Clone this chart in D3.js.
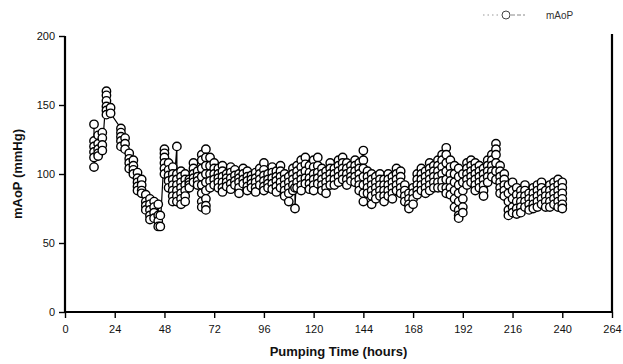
<!DOCTYPE html>
<html>
<head>
<meta charset="utf-8">
<script src="https://cdn.jsdelivr.net/npm/d3@7"></script>
<style>
  body { margin: 0; background: #fff; }
  svg { display: block; }
</style>
</head>
<body>
<div id="chart"></div>
<script>
// x ticks and y ticks as printed on the axes
const xTicks = [0, 24, 48, 72, 96, 120, 144, 168, 192, 216, 240, 264];
const yTicks = [0, 50, 100, 150, 200];

// sampling times (hours) and the burst of readings taken at each one (mmHg)
const hours = [14, 16, 18, 20, 22, 27, 29, 31, 33, 35, 37, 39, 41, 43, 45, 46,
  48, 50, 52, 54, 56, 58, 60, 62, 64, 66, 68, 70,
  72, 74, 76, 78, 80, 82, 84, 86, 88, 90, 92, 94, 96, 98, 100, 102, 104, 106, 108, 110, 111,
  112, 114, 116, 118, 120, 122, 124, 126, 128, 130, 132, 134, 136, 138, 140, 142, 144,
  146, 148, 150, 152, 154, 156, 158, 160, 162, 164, 166, 168, 170, 172, 174, 176, 178,
  180, 182, 184, 186, 188, 190, 192, 194, 196, 198, 200, 202, 204, 206, 208, 210,
  212, 214, 216, 218, 220, 222, 224, 226, 228, 230, 232, 234, 236, 238, 240];

const readings = [
  [136, 124, 120, 116, 112, 105], [128, 122, 118, 115, 113], [130, 126, 121, 117],
  [160, 157, 153, 149, 146, 143], [148, 144],
  [133, 130, 127, 124, 120], [126, 122, 118], [115, 111, 108, 104], [110, 106, 103, 100],
  [101, 97, 94, 91, 88], [96, 92, 88, 86], [85, 80, 77, 74], [82, 78, 74, 70, 67],
  [80, 76, 72, 68], [78, 70, 66, 62], [70, 62],
  [118, 115, 112, 108, 104, 100], [108, 103, 99, 95, 90], [105, 100, 96, 92, 88, 84, 80],
  [120, 100, 96, 92, 88, 84, 80], [102, 98, 94, 90, 86, 82, 78], [100, 96, 92, 88, 84, 80],
  [96, 94, 92, 90], [108, 104, 100, 97, 94], [102, 98, 95, 92],
  [114, 110, 104, 98, 92, 86, 80, 76], [118, 112, 106, 100, 94, 88, 82, 77, 74], [112, 106, 100, 95, 90],
  [108, 104, 100, 96, 92], [104, 100, 97, 94, 90], [106, 102, 98, 94, 90, 87], [100, 97, 94, 91],
  [105, 101, 97, 93, 89], [103, 99, 95, 92], [100, 97, 94, 90, 86], [104, 100, 96, 93],
  [102, 98, 95, 91, 88], [99, 96, 93, 90], [101, 97, 94, 90, 87], [104, 100, 96, 92],
  [108, 103, 99, 95, 91, 88], [100, 96, 93, 90], [105, 101, 97, 93, 89], [102, 98, 95, 91, 87],
  [106, 102, 98, 94, 90], [100, 96, 92, 88, 84], [98, 94, 90, 86, 80], [104, 100, 96, 92, 88],
  [90, 75],
  [106, 102, 98, 94, 90], [110, 105, 100, 96, 92, 88], [112, 107, 102, 97, 93], [106, 101, 97, 93, 89],
  [110, 105, 100, 96, 92, 88], [112, 106, 101, 97, 93], [104, 100, 96, 92, 88], [102, 98, 94, 90, 86],
  [108, 104, 100, 96, 92], [104, 100, 96, 92], [110, 106, 102, 98, 94], [112, 108, 104, 100, 96],
  [108, 104, 100, 96, 92], [106, 102, 98, 95], [110, 106, 102, 98, 94], [108, 104, 100, 96, 92, 88],
  [117, 110, 104, 98, 92, 86, 80],
  [102, 98, 94, 90, 86], [100, 96, 92, 88, 84, 78], [98, 94, 90, 86, 82], [100, 96, 92, 88, 84],
  [96, 92, 88, 84, 80], [100, 96, 92, 88, 84], [98, 94, 90, 86, 82], [104, 100, 96, 92, 88],
  [102, 98, 94, 90, 86], [92, 88, 84, 80], [86, 82, 78, 75], [90, 86, 82, 78],
  [100, 96, 92, 88, 85], [104, 100, 96, 92, 88], [102, 98, 94, 90, 86], [108, 104, 100, 96, 92, 88],
  [106, 102, 98, 94, 90],
  [110, 106, 102, 98, 94, 90], [114, 110, 105, 100, 95, 90], [119, 114, 108, 102, 96, 90, 86],
  [110, 105, 100, 95, 90, 85], [106, 100, 94, 88, 82, 76], [104, 98, 92, 86, 80, 74, 70, 68],
  [100, 94, 88, 82, 76, 72], [108, 104, 100, 96, 92], [110, 106, 102, 98, 94],
  [108, 104, 100, 96, 92, 88], [106, 102, 98, 94, 90], [104, 100, 96, 92, 88, 84],
  [110, 106, 102, 98, 94], [114, 110, 106, 102, 98], [122, 118, 114, 108, 102, 96],
  [106, 102, 98, 94, 90, 86],
  [100, 96, 92, 88, 84], [92, 86, 80, 74, 70], [94, 88, 82, 76, 72], [90, 85, 80, 75, 71],
  [88, 84, 80, 76, 72], [92, 88, 84, 80, 76], [86, 82, 78, 74], [90, 86, 82, 78, 75],
  [92, 88, 84, 80, 76], [94, 90, 86, 82, 78], [88, 84, 80, 76], [92, 88, 84, 80, 76],
  [94, 90, 86, 82, 78], [96, 92, 88, 84, 80, 76], [94, 90, 86, 82, 78, 75]
];

const width = 623, height = 364;
const margin = {top: 36, right: 11, bottom: 52, left: 65};
const font = "'Liberation Sans', Arial, sans-serif";

const svg = d3.select("#chart").append("svg")
  .attr("width", width)
  .attr("height", height);

const x = d3.scaleLinear().domain([0, 264]).range([margin.left, width - margin.right]);
const y = d3.scaleLinear().domain([0, 200]).range([height - margin.bottom, margin.top]);

// flatten the bursts into one ordered sequence of points
const points = [];
hours.forEach((h, i) => {
  readings[i].forEach(v => points.push({h: h, v: v}));
});

// connecting line
svg.append("path")
  .datum(points)
  .attr("fill", "none")
  .attr("stroke", "#000")
  .attr("stroke-width", 1.2)
  .attr("d", d3.line().x(d => x(d.h)).y(d => y(d.v)));

// open circle markers
svg.append("g")
  .selectAll("circle")
  .data(points)
  .enter()
  .append("circle")
  .attr("cx", d => x(d.h))
  .attr("cy", d => y(d.v))
  .attr("r", 4.2)
  .attr("fill", "#fff")
  .attr("stroke", "#000")
  .attr("stroke-width", 1.4);

// axes
const xAxis = svg.append("g")
  .attr("transform", `translate(0,${y(0)})`)
  .call(d3.axisBottom(x).tickValues(xTicks).tickSize(6).tickPadding(7));
const yAxis = svg.append("g")
  .attr("transform", `translate(${margin.left},0)`)
  .call(d3.axisLeft(y).tickValues(yTicks).tickSize(6).tickPadding(4));

[xAxis, yAxis].forEach(a => {
  a.select(".domain").attr("stroke", "#000").attr("stroke-width", 2.2);
  a.selectAll(".tick line").attr("stroke", "#000").attr("stroke-width", 1.4);
  a.selectAll(".tick text")
    .attr("fill", "#111")
    .style("font-family", font)
    .style("font-size", "11px");
});
xAxis.select(".domain").attr("d", `M${x(0)},0H${x(264)}`);
yAxis.select(".domain").attr("d", `M0,${y(0)}V${y(200)}`);

// right frame line
svg.append("line")
  .attr("x1", x(264)).attr("x2", x(264))
  .attr("y1", y(201.5)).attr("y2", y(0))
  .attr("stroke", "#000")
  .attr("stroke-width", 2.2);

// axis titles
svg.append("text")
  .attr("x", (x(0) + x(264)) / 2)
  .attr("y", 356)
  .attr("text-anchor", "middle")
  .style("font-family", font)
  .style("font-weight", "bold")
  .style("font-size", "13px")
  .attr("fill", "#111")
  .text("Pumping Time (hours)");

svg.append("text")
  .attr("transform", `translate(22,${y(100)}) rotate(-90)`)
  .attr("text-anchor", "middle")
  .style("font-family", font)
  .style("font-weight", "bold")
  .style("font-size", "13px")
  .attr("fill", "#111")
  .text("mAoP  (mmHg)");

// legend
const legend = svg.append("g").attr("transform", "translate(483,15)");
legend.append("line")
  .attr("x1", 0).attr("x2", 18).attr("y1", 0).attr("y2", 0)
  .attr("stroke", "#999").attr("stroke-dasharray", "1.5,3");
legend.append("line")
  .attr("x1", 28).attr("x2", 42).attr("y1", 0).attr("y2", 0)
  .attr("stroke", "#888").attr("stroke-dasharray", "4,2");
legend.append("circle")
  .attr("cx", 23).attr("cy", 0).attr("r", 4)
  .attr("fill", "#fff").attr("stroke", "#444");
legend.append("text")
  .attr("x", 63).attr("y", 4)
  .style("font-family", font)
  .style("font-size", "10px")
  .attr("fill", "#333")
  .text("mAoP");
</script>
</body>
</html>
